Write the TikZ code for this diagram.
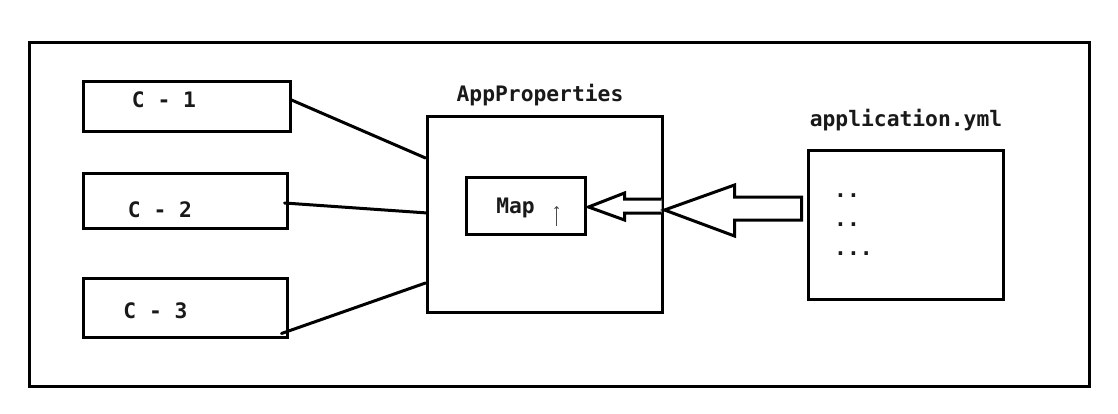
\documentclass[tikz,border=0pt]{standalone}
\usepackage{fontspec}
\setmonofont{DejaVu Sans Mono}
\usetikzlibrary{calc,arrows.meta}
\tikzset{
  boxx/.style={draw=black, line width=3pt, minimum width=#1, inner sep=0pt},
  lbl/.style={font=\fontsize{21.3}{24}\selectfont\ttfamily\bfseries, inner sep=0pt, anchor=base, text=black!90},
  conn/.style={draw=black, line width=3pt, line cap=round},
  fatarrow/.style={draw=black, line width=3pt, line join=miter, fill=white}
}
\begin{document}
\begin{tikzpicture}[x=1pt,y=-1pt]
\useasboundingbox (0,0) rectangle (1118,414);
\fill[white] (0,0) rectangle (1118,414);
% outer frame
\node[draw=black, line width=3pt, minimum width=1060pt, minimum height=344pt, inner sep=0pt] (frame) at (559,214.5) {};
% client boxes
\node[boxx=207pt, minimum height=50pt] (c1) at (186.5,107) {};
\node[boxx=204pt, minimum height=54pt] (c2) at (185,201) {};
\node[boxx=204pt, minimum height=59pt] (c3) at (185,307.5) {};
\node[lbl] (c1t) at (164,108) {C - 1};
\node[lbl] (c2t) at (160,217) {C - 2};
\node[lbl] (c3t) at (155.5,318) {C - 3};
% AppProperties
\node[boxx=235pt, minimum height=195pt] (app) at (544.5,214.5) {};
\node[lbl] (appt) at (540,102) {AppProperties};
\node[boxx=119pt, minimum height=56pt] (map) at (525.5,206) {};
\node[lbl] (mapt) at (515.5,213) {Map};
% application.yml
\node[boxx=195pt, minimum height=148pt] (yml) at (905.5,225) {};
\node[lbl] (ymlt) at (906,127) {application.yml};
\node[lbl, anchor=base west] (d1) at (834,197) {..};
\node[lbl, anchor=base west] (d2) at (834,226) {..};
\node[lbl, anchor=base west] (d3) at (834,255) {...};
% connectors
\draw[conn] ($(c1.east)+(0,-7)$) -- ($(app.west)+(0,-56.5)$);
\draw[conn] ($(c2.east)+(-4,2)$) -- ($(app.west)+(2,-1.5)$);
\draw[conn] ($(c3.south east)+(-7,-5)$) -- ($(app.west)+(0,68.5)$);
% small arrow from app edge to map
\coordinate (sa) at ($(map.east)+(2,1)$);
\draw[fatarrow] ($(app.east)+(-2,-15.5)$) -- ($(sa)+(36,-8)$) -- ($(sa)+(36,-14)$) -- (sa) -- ($(sa)+(36,13)$) -- ($(sa)+(36,6)$) -- ($(app.east)+(-2,-1.5)$);
% large arrow from yml to app
\coordinate (la) at ($(app.east)+(1,-4.5)$);
\draw[fatarrow] (la) -- ($(la)+(70,-25)$) -- ($(la)+(70,-13)$) -- ($(yml.west)+(-5,-28)$) -- ($(yml.west)+(-5,-5)$) -- ($(la)+(70,10)$) -- ($(la)+(70,26)$) -- cycle;
% mouse cursor
\coordinate (cur) at (556.5,226);
\draw[black!70, line width=0.9pt, -{Straight Barb[length=2pt,width=4pt]}] (cur) -- ++(0,-20);
\end{tikzpicture}
\end{document}
